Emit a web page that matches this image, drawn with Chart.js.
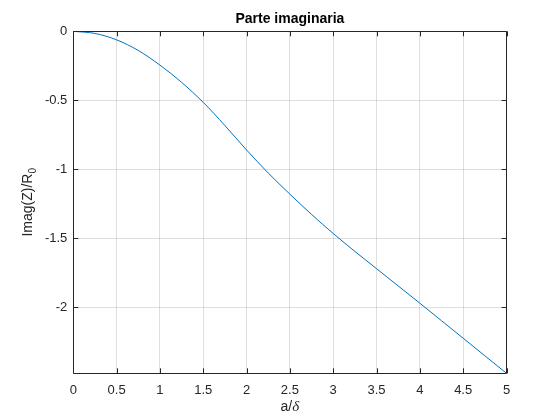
<!DOCTYPE html>
<html>
<head>
<meta charset="utf-8">
<script src="https://cdn.jsdelivr.net/npm/chart.js@4/dist/chart.umd.min.js"></script>
<style>
html,body{margin:0;padding:0;background:#fff;}
#wrap{width:560px;height:420px;position:relative;}
</style>
</head>
<body>
<div id="wrap"><canvas id="c" width="560" height="420"></canvas></div>
<script>
// ---- data ----
const xValues = [0, 0.25, 0.5, 0.75, 1, 1.25, 1.5, 1.75, 2, 2.25, 2.5, 2.75, 3, 3.25, 3.5, 3.75, 4, 4.25, 4.5, 4.75, 5];
const yValues = [0, -0.0155, -0.062, -0.139, -0.245, -0.370, -0.515, -0.683, -0.860, -1.027, -1.180, -1.327, -1.465, -1.595, -1.720, -1.845, -1.970, -2.097, -2.224, -2.351, -2.478];
const xTicks = [0, 0.5, 1, 1.5, 2, 2.5, 3, 3.5, 4, 4.5, 5];
const yTicks = [-2, -1.5, -1, -0.5, 0];
const xLimits = [0, 5];
const yLimits = [-2.478, 0];
const titleText = "Parte imaginaria";
const yLabelMain = "Imag(Z)/R";
const yLabelSub = "0";
const xLabelMain = "a/";
const xLabelGreek = "\u03B4";

const AX = '#262626';
const GRID = 'rgba(38,38,38,0.15)';
const FONT = "'Liberation Sans', Arial, Helvetica, sans-serif";

const decor = {
  id: 'decor',
  afterDraw(chart) {
    const ctx = chart.ctx;
    const a = chart.chartArea;
    const xs = chart.scales.x, ys = chart.scales.y;
    ctx.save();
    // box
    ctx.strokeStyle = AX;
    ctx.lineWidth = 1;
    ctx.beginPath();
    ctx.rect(Math.round(a.left) + 0.5, Math.round(a.top) + 0.5, Math.round(a.right - a.left), Math.round(a.bottom - a.top));
    ctx.stroke();
    // inward ticks
    const tl = 5;
    ctx.beginPath();
    xTicks.forEach(v => {
      const px = Math.round(xs.getPixelForValue(v)) + 0.5;
      ctx.moveTo(px, a.bottom); ctx.lineTo(px, a.bottom - tl);
      ctx.moveTo(px, a.top); ctx.lineTo(px, a.top + tl);
    });
    yTicks.forEach(v => {
      const py = Math.round(ys.getPixelForValue(v)) + 0.5;
      ctx.moveTo(a.left, py); ctx.lineTo(a.left + tl, py);
      ctx.moveTo(a.right, py); ctx.lineTo(a.right - tl, py);
    });
    ctx.stroke();
    // title
    ctx.fillStyle = '#000';
    ctx.font = "bold 14px " + FONT;
    ctx.textAlign = 'center';
    ctx.textBaseline = 'middle';
    ctx.fillText(titleText, (a.left + a.right) / 2, 19);
    // x label
    ctx.fillStyle = AX;
    ctx.textBaseline = 'alphabetic';
    ctx.textAlign = 'left';
    ctx.font = "14px " + FONT;
    const w1 = ctx.measureText(xLabelMain).width;
    ctx.font = "italic 15px 'Liberation Serif', 'Times New Roman', serif";
    const w2 = ctx.measureText(xLabelGreek).width;
    let sx = (a.left + a.right) / 2 - (w1 + w2) / 2;
    ctx.font = "14px " + FONT;
    ctx.fillText(xLabelMain, sx, 411);
    ctx.font = "italic 15px 'Liberation Serif', 'Times New Roman', serif";
    ctx.fillText(xLabelGreek, sx + w1, 411);
    // y label
    ctx.save();
    ctx.translate(32, (a.top + a.bottom) / 2);
    ctx.rotate(-Math.PI / 2);
    ctx.font = "14px " + FONT;
    const m1 = ctx.measureText(yLabelMain).width;
    ctx.font = "10px " + FONT;
    const m2 = ctx.measureText(yLabelSub).width;
    const st = -(m1 + m2) / 2;
    ctx.font = "14px " + FONT;
    ctx.fillText(yLabelMain, st, 0);
    ctx.font = "10px " + FONT;
    ctx.fillText(yLabelSub, st + m1, 4);
    ctx.restore();
    ctx.restore();
  }
};

new Chart(document.getElementById('c'), {
  type: 'line',
  data: {
    datasets: [{
      data: xValues.map((x, i) => ({ x: x, y: yValues[i] })),
      borderColor: '#0072BD',
      borderWidth: 1,
      pointRadius: 0,
      fill: false,
      cubicInterpolationMode: 'monotone'
    }]
  },
  options: {
    responsive: false,
    animation: false,
    devicePixelRatio: 1,
    layout: { padding: { left: 0, top: 31.3, right: 53.5, bottom: 0 } },
    plugins: { legend: { display: false }, title: { display: false }, tooltip: { enabled: false } },
    scales: {
      x: {
        type: 'linear',
        min: xLimits[0], max: xLimits[1],
        afterFit(s) { s.height = 46.7; },
        afterBuildTicks(s) { s.ticks = xTicks.map(v => ({ value: v })); },
        grid: { color: GRID, drawTicks: false, lineWidth: 1 },
        border: { display: false },
        ticks: {
          color: AX, padding: 9,
          font: { family: FONT, size: 13 },
          maxRotation: 0, autoSkip: false,
          callback: v => String(v)
        }
      },
      y: {
        type: 'linear',
        min: yLimits[0], max: yLimits[1],
        afterFit(s) { s.width = 73.3; },
        afterBuildTicks(s) { s.ticks = yTicks.map(v => ({ value: v })); },
        grid: { color: GRID, drawTicks: false, lineWidth: 1 },
        border: { display: false },
        ticks: {
          color: AX, padding: 6,
          font: { family: FONT, size: 13 },
          autoSkip: false,
          callback: v => String(v)
        }
      }
    }
  },
  plugins: [decor]
});
</script>
</body>
</html>
